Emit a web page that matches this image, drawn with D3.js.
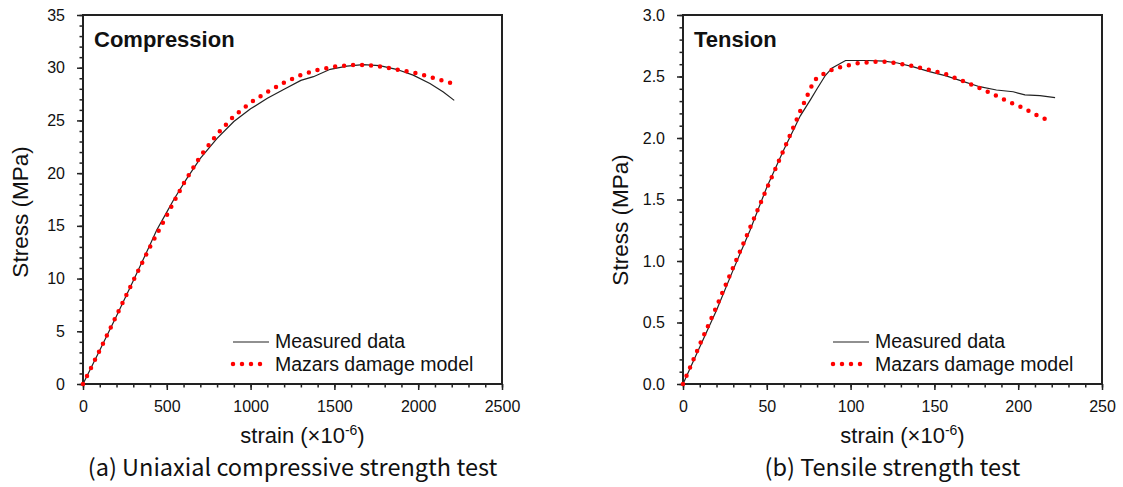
<!doctype html>
<html>
<head>
<meta charset="utf-8"/>
<style>
body{margin:0;background:#fff;}
svg text{font-family:Arial,"Liberation Sans",sans-serif;fill:#111;}
</style>
<script src="https://d3js.org/d3.v7.min.js"></script>
</head>
<body>
<script>
// (a) compression: measured stress-strain curve
var compMeasStrain = [0,100,200,300,400,440,500,540,620,700,800,900,1000,1100,1200,1300,1375,1475,1575,1670,1770,1870,1970,2070,2150,2215];
var compMeasStress = [0,3.2,6.45,9.8,13.2,14.6,16.3,17.45,19.5,21.4,23.3,24.9,26.1,27.1,27.95,28.8,29.15,29.85,30.15,30.3,30.2,29.85,29.3,28.5,27.7,26.9];
// (a) compression: Mazars model
var compModelStrain = [0,100,200,300,400,500,600,700,800,900,1000,1100,1200,1300,1400,1500,1600,1700,1800,1900,2000,2100,2206];
var compModelStress = [0,3.2,6.5,9.8,13.0,16.0,19.0,21.6,23.7,25.4,26.7,27.7,28.6,29.3,29.8,30.1,30.25,30.25,30.05,29.75,29.45,29.0,28.5];
// (b) tension: measured
var tensMeasStrain = [0,10,20,30,40,50,60,70,76,80,85,89,97,110,120,128,137,147,157,167,177,187,197,204,213,222];
var tensMeasStress = [0,0.3,0.6,0.93,1.25,1.6,1.9,2.18,2.31,2.4,2.51,2.57,2.63,2.63,2.625,2.61,2.58,2.54,2.505,2.46,2.417,2.39,2.376,2.35,2.344,2.328];
// (b) tension: Mazars model
var tensModelStrain = [0,10,20,30,40,50,60,70,75,78,80,85,90,95,103,113,120,128,137,147,157,166,175,184,193,202,211,220];
var tensModelStress = [0,0.32,0.63,0.95,1.27,1.59,1.9,2.22,2.37,2.46,2.49,2.53,2.56,2.58,2.605,2.62,2.62,2.607,2.585,2.553,2.518,2.469,2.417,2.363,2.303,2.25,2.187,2.13];

var compXTicks = [0,500,1000,1500,2000,2500];
var compYTicks = [0,5,10,15,20,25,30,35];
var tensXTicks = [0,50,100,150,200,250];
var tensYTicks = [0,0.5,1.0,1.5,2.0,2.5,3.0];

var legendNames = ["Measured data","Mazars damage model"];

var svg = d3.select("body").append("svg")
    .attr("width",1123)
    .attr("height",487);

drawPanel({
  left:83, top:15, w:419, h:369,
  xTicks:compXTicks, xMinor:100, yTicks:compYTicks, yMinor:1, yFmt:d3.format("d"),
  title:"Compression", caption:"(a) Uniaxial compressive strength test", yTitleY:212,
  mx:compMeasStrain, my:compMeasStress, px:compModelStrain, py:compModelStress
});
drawPanel({
  left:683, top:15, w:419, h:369,
  xTicks:tensXTicks, xMinor:10, yTicks:tensYTicks, yMinor:0.1, yFmt:d3.format(".1f"),
  title:"Tension", caption:"(b) Tensile strength test", yTitleY:220,
  mx:tensMeasStrain, my:tensMeasStress, px:tensModelStrain, py:tensModelStress
});

function drawPanel(o)
{
  var xMax = o.xTicks[o.xTicks.length-1];
  var yMax = o.yTicks[o.yTicks.length-1];
  var x = d3.scaleLinear().domain([0,xMax]).range([o.left,o.left+o.w]);
  var y = d3.scaleLinear().domain([0,yMax]).range([o.top+o.h,o.top]);

  var xMinorVals = d3.range(0,xMax+o.xMinor/2,o.xMinor);
  var yMinorVals = d3.range(0,yMax+o.yMinor/2,o.yMinor);

  // minor ticks
  svg.append("g")
    .attr("transform","translate(0,"+(o.top+o.h)+")")
    .call(d3.axisBottom(x).tickValues(xMinorVals).tickSize(3.5).tickFormat(""))
    .call(function(g){ g.select(".domain").remove(); g.selectAll("line").attr("stroke","#222").attr("stroke-width",1.5); });
  svg.append("g")
    .attr("transform","translate("+o.left+",0)")
    .call(d3.axisLeft(y).tickValues(yMinorVals).tickSize(3.5).tickFormat(""))
    .call(function(g){ g.select(".domain").remove(); g.selectAll("line").attr("stroke","#222").attr("stroke-width",1.5); });

  // major ticks + labels
  var gx = svg.append("g")
    .attr("transform","translate(0,"+(o.top+o.h)+")")
    .call(d3.axisBottom(x).tickValues(o.xTicks).tickSize(6).tickPadding(11).tickFormat(d3.format("d")));
  gx.select(".domain").remove();
  gx.selectAll("line").attr("stroke","#222").attr("stroke-width",1.5);
  gx.selectAll("text").attr("font-size",16).attr("font-family","Arial, 'Liberation Sans', sans-serif").attr("fill","#222");

  var gy = svg.append("g")
    .attr("transform","translate("+o.left+",0)")
    .call(d3.axisLeft(y).tickValues(o.yTicks).tickSize(6).tickPadding(12).tickFormat(o.yFmt));
  gy.select(".domain").remove();
  gy.selectAll("line").attr("stroke","#222").attr("stroke-width",1.5);
  gy.selectAll("text").attr("font-size",16).attr("font-family","Arial, 'Liberation Sans', sans-serif").attr("fill","#222");

  // frame
  svg.append("rect")
    .attr("x",o.left).attr("y",o.top)
    .attr("width",o.w).attr("height",o.h)
    .attr("fill","none").attr("stroke","#222").attr("stroke-width",2);

  // curves
  var line = d3.line().x(function(d){return x(d[0]);}).y(function(d){return y(d[1]);});
  svg.append("path")
    .datum(d3.zip(o.mx,o.my))
    .attr("d",line)
    .attr("fill","none").attr("stroke","#222").attr("stroke-width",1.2);
  svg.append("path")
    .datum(d3.zip(o.px,o.py))
    .attr("d",line)
    .attr("fill","none").attr("stroke","#ff0000").attr("stroke-width",4.5)
    .attr("stroke-linecap","round").attr("stroke-dasharray","0 9");

  // panel title
  svg.append("text")
    .attr("x",o.left+11).attr("y",o.top+32)
    .attr("font-size",22).attr("font-weight","bold")
    .text(o.title);

  // legend
  var lx = o.left+150, ly = o.top+o.h-42;
  svg.append("line").attr("x1",lx).attr("x2",lx+36).attr("y1",ly).attr("y2",ly)
    .attr("stroke","#222").attr("stroke-width",1.2);
  svg.append("line").attr("x1",lx).attr("x2",lx+36).attr("y1",ly+22).attr("y2",ly+22)
    .attr("stroke","#ff0000").attr("stroke-width",4.5)
    .attr("stroke-linecap","round").attr("stroke-dasharray","0 9");
  svg.selectAll()
    .data(legendNames)
    .enter()
    .append("text")
    .attr("x",lx+42)
    .attr("y",function(d,i){return ly+6+i*23;})
    .attr("font-size",19.5)
    .text(function(d){return d;});

  // axis titles
  var xt = svg.append("text")
    .attr("x",o.left+o.w/2+10).attr("y",443)
    .attr("text-anchor","middle").attr("font-size",22);
  xt.append("tspan").text("strain (\u00d710");
  xt.append("tspan").attr("dy",-8).attr("font-size",14).text("-6");
  xt.append("tspan").attr("dy",8).text(")");

  svg.append("text")
    .attr("transform","translate("+(o.left-55)+","+o.yTitleY+") rotate(-90)")
    .attr("text-anchor","middle").attr("font-size",22.5)
    .text("Stress (MPa)");

  // caption
  svg.append("text")
    .attr("x",o.left+o.w/2).attr("y",476)
    .attr("text-anchor","middle")
    .attr("font-size",23.5)
    .style("font-family","'Noto Sans CJK KR','Noto Sans',sans-serif")
    .attr("fill","#222")
    .text(o.caption);
}
</script>
</body>
</html>
